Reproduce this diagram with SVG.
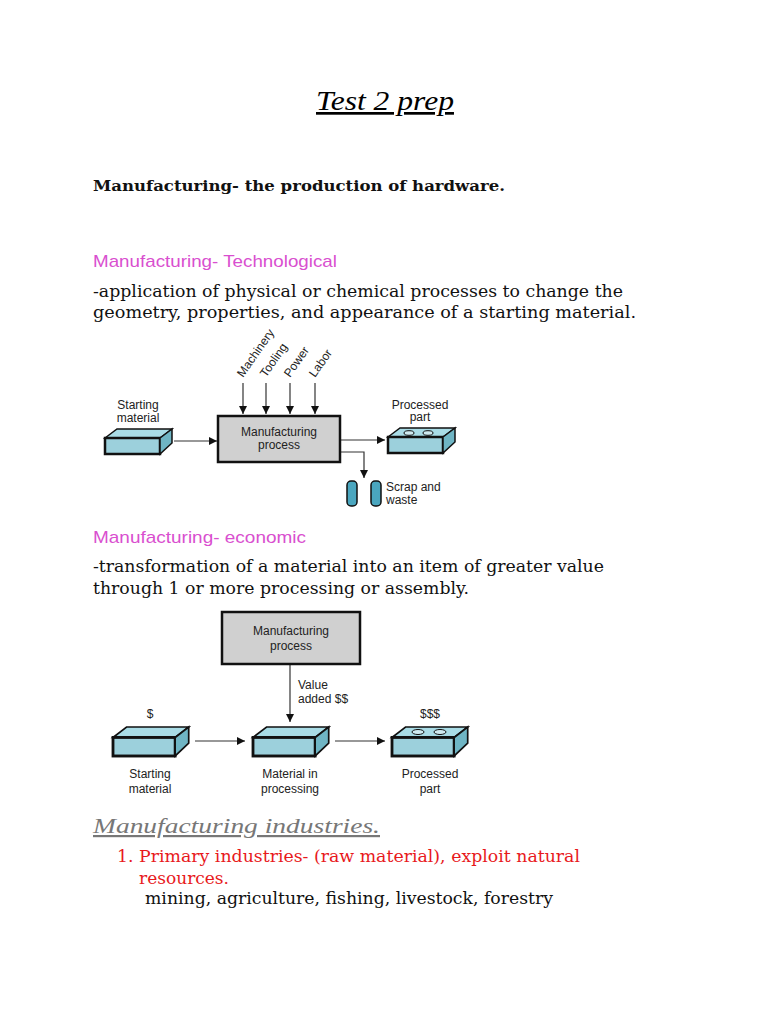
<svg xmlns="http://www.w3.org/2000/svg" width="768" height="1024" viewBox="0 0 768 1024">
<style>
.s{font-family:"DejaVu Serif","Liberation Serif",serif;font-size:16px;fill:#111}
.p{font-family:"Liberation Sans",Arial,sans-serif;font-size:17px;fill:#d94fcf}
.d{font-family:"Liberation Sans",Arial,sans-serif;font-size:12px;fill:#222}
.ln{stroke:#333;stroke-width:1.2;fill:none}
.box{fill:#d0d0d0;stroke:#111;stroke-width:2.5}
.top{fill:#a9dce6;stroke:#111;stroke-width:1.5}
.front{fill:#9cd0dc;stroke:#111;stroke-width:2.5}
.side{fill:#6fb5c4;stroke:#111;stroke-width:1.5}
</style>
<defs>
<marker id="a" viewBox="0 0 10 10" refX="10" refY="5" markerWidth="8" markerHeight="8" markerUnits="userSpaceOnUse" orient="auto"><path d="M0,0L10,5L0,10z" fill="#111"/></marker>
<g id="slab"><polygon class="top" points="0,9 12,0 67,0 55,9"/><rect class="front" x="0" y="9" width="55" height="16"/><polygon class="side" points="55,9 67,0 67,14 55,25"/></g>
</defs>
<rect width="768" height="1024" fill="#fff"/>
<text x="385" y="110" text-anchor="middle" style="font-family:'Liberation Serif',serif;font-style:italic;font-size:27px;text-decoration:underline" textLength="138" lengthAdjust="spacingAndGlyphs">Test 2 prep</text>
<text x="93" y="191" class="s" style="font-weight:bold;font-size:15px" textLength="412" lengthAdjust="spacingAndGlyphs">Manufacturing- the production of hardware.</text>
<text x="93" y="267" class="p" textLength="244" lengthAdjust="spacingAndGlyphs">Manufacturing- Technological</text>
<text x="93" y="297" class="s" textLength="530" lengthAdjust="spacingAndGlyphs">-application of physical or chemical processes to change the</text>
<text x="93" y="318" class="s" textLength="543" lengthAdjust="spacingAndGlyphs">geometry, properties, and appearance of a starting material.</text>

<g id="connectors1">
<line class="ln" x1="174" y1="441" x2="217" y2="441" marker-end="url(#a)"/>
<line class="ln" x1="243" y1="383" x2="243" y2="414" marker-end="url(#a)"/>
<line class="ln" x1="266" y1="383" x2="266" y2="414" marker-end="url(#a)"/>
<line class="ln" x1="290" y1="383" x2="290" y2="414" marker-end="url(#a)"/>
<line class="ln" x1="315" y1="383" x2="315" y2="414" marker-end="url(#a)"/>
<line class="ln" x1="341" y1="440" x2="385" y2="440" marker-end="url(#a)"/>
<polyline class="ln" points="341,452 364,452 364,478" marker-end="url(#a)"/>
</g>
<g id="inputs" class="d">
<text transform="translate(243,378) rotate(-55)">Machinery</text>
<text transform="translate(266,378) rotate(-55)">Tooling</text>
<text transform="translate(290,378) rotate(-55)">Power</text>
<text transform="translate(315,378) rotate(-55)">Labor</text>
</g>
<g id="start1"><use href="#slab" x="105" y="429"/><text class="d" x="138" y="409" text-anchor="middle">Starting</text><text class="d" x="138" y="422" text-anchor="middle">material</text></g>
<g id="proc1"><rect class="box" x="218" y="416" width="122" height="46"/><text class="d" x="279" y="436" text-anchor="middle">Manufacturing</text><text class="d" x="279" y="449" text-anchor="middle">process</text></g>
<g id="part1"><use href="#slab" x="388" y="428"/><ellipse cx="409" cy="433" rx="5" ry="2.3" fill="#cfeaf0" stroke="#111"/><ellipse cx="428" cy="433" rx="5" ry="2.3" fill="#cfeaf0" stroke="#111"/><text class="d" x="420" y="409" text-anchor="middle">Processed</text><text class="d" x="420" y="421" text-anchor="middle">part</text></g>
<g id="scrap"><rect x="347" y="481" width="10" height="25" rx="4" fill="#4aa6bf" stroke="#111" stroke-width="1.5"/><rect x="371" y="481" width="10" height="25" rx="4" fill="#4aa6bf" stroke="#111" stroke-width="1.5"/><text class="d" x="386" y="491">Scrap and</text><text class="d" x="386" y="504">waste</text></g>

<text x="93" y="543" class="p" textLength="213" lengthAdjust="spacingAndGlyphs">Manufacturing- economic</text>
<text x="93" y="572" class="s" textLength="511" lengthAdjust="spacingAndGlyphs">-transformation of a material into an item of greater value</text>
<text x="93" y="594" class="s" textLength="376" lengthAdjust="spacingAndGlyphs">through 1 or more processing or assembly.</text>

<g id="connectors2">
<line class="ln" x1="290" y1="665" x2="290" y2="722" marker-end="url(#a)"/>
<line class="ln" x1="195" y1="741" x2="245" y2="741" marker-end="url(#a)"/>
<line class="ln" x1="335" y1="741" x2="385" y2="741" marker-end="url(#a)"/>
</g>
<g id="proc2"><rect class="box" x="222" y="612" width="138" height="52"/><text class="d" x="291" y="635" text-anchor="middle">Manufacturing</text><text class="d" x="291" y="650" text-anchor="middle">process</text></g>
<text class="d" x="298" y="689">Value</text><text class="d" x="298" y="703">added $$</text>
<g id="start2"><g transform="translate(113,727) scale(1.13,1.16)"><use href="#slab"/></g><text class="d" x="150" y="718" text-anchor="middle">$</text><text class="d" x="150" y="778" text-anchor="middle">Starting</text><text class="d" x="150" y="793" text-anchor="middle">material</text></g>
<g id="mid2"><g transform="translate(253,727) scale(1.13,1.16)"><use href="#slab"/></g><text class="d" x="290" y="778" text-anchor="middle">Material in</text><text class="d" x="290" y="793" text-anchor="middle">processing</text></g>
<g id="part2"><g transform="translate(392,727) scale(1.13,1.16)"><use href="#slab"/></g><ellipse cx="418" cy="732" rx="6" ry="2.5" fill="#cfeaf0" stroke="#111"/><ellipse cx="440" cy="732" rx="6" ry="2.5" fill="#cfeaf0" stroke="#111"/><text class="d" x="430" y="718" text-anchor="middle">$$$</text><text class="d" x="430" y="778" text-anchor="middle">Processed</text><text class="d" x="430" y="793" text-anchor="middle">part</text></g>

<text x="93" y="833" style="font-family:'Liberation Serif',serif;font-style:italic;font-size:22px;fill:#777;text-decoration:underline" textLength="287" lengthAdjust="spacingAndGlyphs">Manufacturing industries.</text>
<text x="117" y="862" class="s" style="fill:#e8191c" textLength="463" lengthAdjust="spacingAndGlyphs">1. Primary industries- (raw material), exploit natural</text>
<text x="139" y="884" class="s" style="fill:#e8191c" textLength="90" lengthAdjust="spacingAndGlyphs">resources.</text>
<text x="145" y="904" class="s" textLength="408" lengthAdjust="spacingAndGlyphs">mining, agriculture, fishing, livestock, forestry</text>
</svg>
